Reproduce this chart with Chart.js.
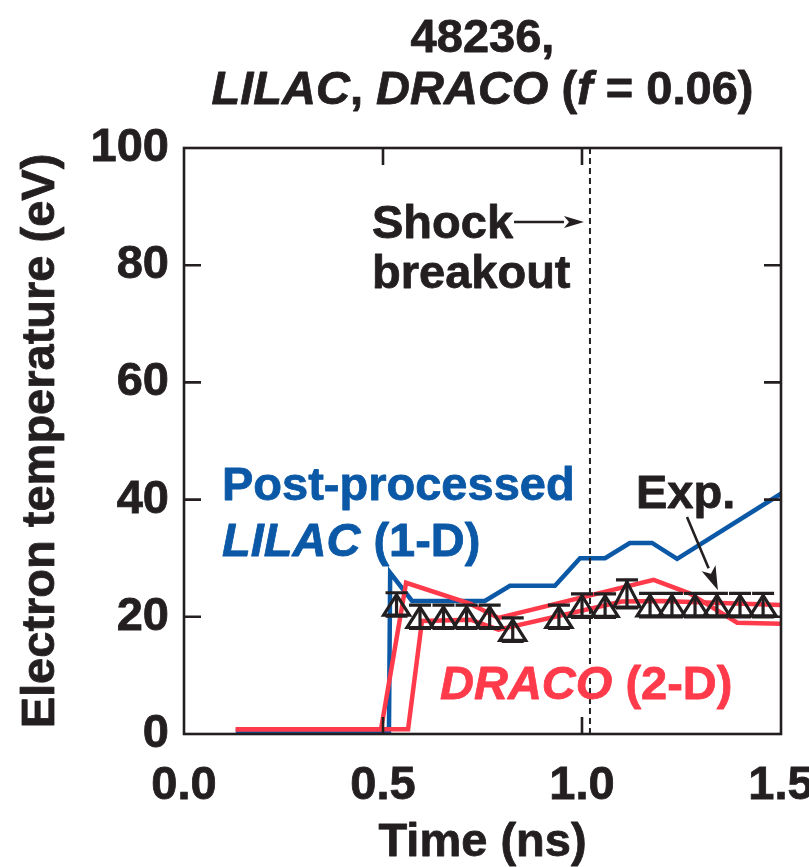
<!DOCTYPE html>
<html>
<head>
<meta charset="utf-8">
<script src="https://cdn.jsdelivr.net/npm/chart.js@4.4.1/dist/chart.umd.min.js"></script>
<style>
  html, body { margin: 0; padding: 0; background: #fff; }
  #c { display: block; }
</style>
</head>
<body>
<canvas id="c" width="809" height="867"></canvas>
<script>
// axis ticks
const timeTicks = [0.0, 0.5, 1.0, 1.5];
const tempTicks = [0, 20, 40, 60, 80, 100];

// post-processed LILAC (1-D)
const lilacTime = [0.13, 0.515, 0.518, 0.573, 0.756, 0.819, 0.932, 0.995, 1.058, 1.12, 1.176, 1.239, 1.5];
const lilacTemp = [0.5, 0.5, 27.5, 22.7, 22.7, 25.3, 25.3, 30.0, 30.0, 32.6, 32.6, 29.9, 41.0];

// DRACO (2-D), two curves
const dracoHiTime = [0.13, 0.495, 0.558, 0.72, 0.79, 1.18, 1.27, 1.39, 1.5];
const dracoHiTemp = [0.8, 0.8, 25.8, 22.2, 19.8, 26.3, 24.0, 19.0, 18.8];
const dracoLoTime = [0.13, 0.563, 0.598, 0.72, 0.79, 1.1, 1.2, 1.5];
const dracoLoTemp = [0.8, 0.8, 19.3, 19.5, 17.8, 22.6, 22.7, 22.0];

// measured points with error bars
const expTime = [0.534, 0.593, 0.652, 0.710, 0.768, 0.826, 0.942, 1.0, 1.058, 1.113, 1.171, 1.226, 1.284, 1.339, 1.397, 1.455];
const expTemp = [22.1, 20.0, 20.0, 20.0, 20.0, 17.8, 20.0, 21.9, 21.9, 23.9, 22.0, 22.0, 22.0, 22.0, 22.0, 22.0];
const expErr  = [2.0, 2.0, 2.0, 2.0, 2.0, 2.0, 2.0, 2.0, 2.0, 2.4, 2.0, 2.0, 2.0, 2.0, 2.0, 2.0];

const shockTime = 1.02;

const BLUE = '#0a58a6';
const RED = '#ff3a4a';
const INK = '#231f20';
const FAM = '"Liberation Sans", Arial, Helvetica, sans-serif';
const SIZE = 47;
const font = (size, italic) => `${italic ? 'italic ' : ''}bold ${size}px ${FAM}`;

const zip = (xs, ys) => xs.map((x, i) => ({ x: x, y: ys[i] }));

// text made of normal / italic pieces, lightly stroked to look heavier
function drawRuns(ctx, runs, x, y, align, size, color) {
  let total = 0;
  runs.forEach(r => { ctx.font = font(size, r[1]); total += ctx.measureText(r[0]).width; });
  let cx = align === 'center' ? x - total / 2 : x;
  ctx.save();
  ctx.textAlign = 'left';
  ctx.textBaseline = 'alphabetic';
  ctx.fillStyle = color;
  ctx.strokeStyle = color;
  ctx.lineWidth = 0.8;
  ctx.lineJoin = 'round';
  runs.forEach(r => {
    ctx.font = font(size, r[1]);
    ctx.fillText(r[0], cx, y);
    ctx.strokeText(r[0], cx, y);
    cx += ctx.measureText(r[0]).width;
  });
  ctx.restore();
  return total;
}

function drawArrow(ctx, x1, y1, x2, y2, headLen, headW) {
  const a = Math.atan2(y2 - y1, x2 - x1);
  const bx = x2 - Math.cos(a) * headLen, by = y2 - Math.sin(a) * headLen;
  ctx.beginPath();
  ctx.moveTo(x1, y1);
  ctx.lineTo(bx, by);
  ctx.stroke();
  ctx.beginPath();
  ctx.moveTo(x2, y2);
  ctx.lineTo(bx + Math.sin(a) * headW / 2, by - Math.cos(a) * headW / 2);
  ctx.lineTo(bx + Math.cos(a) * headLen * 0.25, by + Math.sin(a) * headLen * 0.25);
  ctx.lineTo(bx - Math.sin(a) * headW / 2, by + Math.cos(a) * headW / 2);
  ctx.closePath();
  ctx.fill();
}

const decorations = {
  id: 'decorations',
  afterDatasetsDraw(chart) {
    const { ctx, chartArea: area, scales: { x, y } } = chart;
    ctx.save();

    // shock breakout marker
    const sx = x.getPixelForValue(shockTime);
    ctx.strokeStyle = INK;
    ctx.lineWidth = 2;
    ctx.setLineDash([6, 4]);
    ctx.beginPath();
    ctx.moveTo(sx, area.bottom);
    ctx.lineTo(sx, area.top);
    ctx.stroke();
    ctx.setLineDash([]);

    // experimental triangles with error bars
    const meta = chart.getDatasetMeta(0);
    ctx.lineWidth = 3.2;
    ctx.lineJoin = 'miter';
    meta.data.forEach((pt, i) => {
      const px = pt.x;
      const top = y.getPixelForValue(expTemp[i] + expErr[i]);
      const bot = y.getPixelForValue(expTemp[i] - expErr[i]);
      const cap = 11, half = 13;
      ctx.beginPath();
      ctx.moveTo(px, top); ctx.lineTo(px, bot);
      ctx.moveTo(px - cap, top); ctx.lineTo(px + cap, top);
      ctx.moveTo(px - cap, bot); ctx.lineTo(px + cap, bot);
      ctx.stroke();
      ctx.beginPath();
      ctx.moveTo(px, top + 2);
      ctx.lineTo(px + half, bot - 1);
      ctx.lineTo(px - half, bot - 1);
      ctx.closePath();
      ctx.stroke();
    });
    ctx.restore();
  },
  afterDraw(chart) {
    const { ctx, chartArea: area, scales: { x, y } } = chart;
    ctx.save();

    // frame and inward ticks
    ctx.strokeStyle = INK;
    ctx.lineWidth = 2.6;
    ctx.strokeRect(area.left, area.top, area.right - area.left, area.bottom - area.top);
    const tl = 17;
    ctx.beginPath();
    timeTicks.slice(1, -1).forEach(t => {
      const px = x.getPixelForValue(t);
      ctx.moveTo(px, area.bottom); ctx.lineTo(px, area.bottom - tl);
      ctx.moveTo(px, area.top); ctx.lineTo(px, area.top + tl);
    });
    tempTicks.slice(1, -1).forEach(v => {
      const py = y.getPixelForValue(v);
      ctx.moveTo(area.left, py); ctx.lineTo(area.left + tl, py);
      ctx.moveTo(area.right, py); ctx.lineTo(area.right - tl, py);
    });
    ctx.stroke();

    const cx = (area.left + area.right) / 2;

    // title
    drawRuns(ctx, [['48236,', false]], cx, 52, 'center', SIZE, INK);
    drawRuns(ctx, [['LILAC', true], [', ', false], ['DRACO', true], [' (', false], ['f', true], [' = 0.06)', false]],
      cx, 104, 'center', SIZE, INK);

    // axis titles
    drawRuns(ctx, [['Time (ns)', false]], cx, 856, 'center', SIZE, INK);
    ctx.save();
    ctx.translate(54, (area.top + area.bottom) / 2);
    ctx.rotate(-Math.PI / 2);
    drawRuns(ctx, [['Electron temperature (eV)', false]], 0, 0, 'center', SIZE, INK);
    ctx.restore();

    // shock label
    const w = drawRuns(ctx, [['Shock', false]], 372, 238, 'left', SIZE, INK);
    drawRuns(ctx, [['breakout', false]], 372, 288, 'left', SIZE, INK);
    ctx.strokeStyle = INK;
    ctx.fillStyle = INK;
    ctx.lineWidth = 2.4;
    drawArrow(ctx, 372 + w + 1, 222, x.getPixelForValue(shockTime) - 6, 222, 20, 12);

    // series labels
    drawRuns(ctx, [['Post-processed', false]], 222, 500, 'left', SIZE, BLUE);
    drawRuns(ctx, [['LILAC', true], [' (1-D)', false]], 222, 556, 'left', SIZE, BLUE);
    drawRuns(ctx, [['DRACO', true], [' (2-D)', false]], 440, 699, 'left', SIZE, RED);
    drawRuns(ctx, [['Exp.', false]], 636, 508, 'left', SIZE, INK);
    ctx.strokeStyle = INK;
    ctx.fillStyle = INK;
    ctx.lineWidth = 2.6;
    drawArrow(ctx, 687, 517, x.getPixelForValue(expTime[13]) + 1, y.getPixelForValue(expTemp[13] + expErr[13]) - 3, 24, 15);

    ctx.restore();
  }
};

new Chart(document.getElementById('c'), {
  type: 'line',
  data: {
    datasets: [
      {
        label: 'Exp.',
        data: zip(expTime, expTemp),
        showLine: false,
        pointRadius: 0,
        pointHoverRadius: 0
      },
      {
        label: 'DRACO high',
        data: zip(dracoHiTime, dracoHiTemp),
        borderColor: RED,
        borderWidth: 4.5,
        pointRadius: 0,
        tension: 0
      },
      {
        label: 'DRACO low',
        data: zip(dracoLoTime, dracoLoTemp),
        borderColor: RED,
        borderWidth: 4.5,
        pointRadius: 0,
        tension: 0
      },
      {
        label: 'LILAC',
        data: zip(lilacTime, lilacTemp),
        borderColor: BLUE,
        borderWidth: 4.5,
        pointRadius: 0,
        tension: 0
      }
    ]
  },
  options: {
    responsive: false,
    animation: false,
    events: [],
    layout: { padding: { top: 148, right: 28, left: 0, bottom: 0 } },
    plugins: { legend: { display: false }, tooltip: { enabled: false }, title: { display: false } },
    scales: {
      x: {
        type: 'linear',
        min: 0,
        max: 1.5,
        afterFit: s => { s.height = 867 - 734; s.paddingLeft = 0; s.paddingRight = 0; },
        afterBuildTicks: s => { s.ticks = timeTicks.map(v => ({ value: v })); },
        grid: { display: false, drawTicks: false },
        border: { display: false },
        ticks: {
          padding: 24,
          color: INK,
          textStrokeColor: INK,
          textStrokeWidth: 0.8,
          font: { family: FAM, size: SIZE, weight: 'bold' },
          callback: v => v.toFixed(1),
          maxRotation: 0,
          autoSkip: false
        }
      },
      y: {
        type: 'linear',
        min: 0,
        max: 100,
        afterFit: s => { s.width = 184; s.paddingTop = 0; s.paddingBottom = 0; },
        afterBuildTicks: s => { s.ticks = tempTicks.map(v => ({ value: v })); },
        grid: { display: false, drawTicks: false },
        border: { display: false },
        ticks: {
          padding: 15,
          color: INK,
          textStrokeColor: INK,
          textStrokeWidth: 0.8,
          font: { family: FAM, size: SIZE, weight: 'bold' }
        }
      }
    }
  },
  plugins: [decorations]
});
</script>
</body>
</html>
